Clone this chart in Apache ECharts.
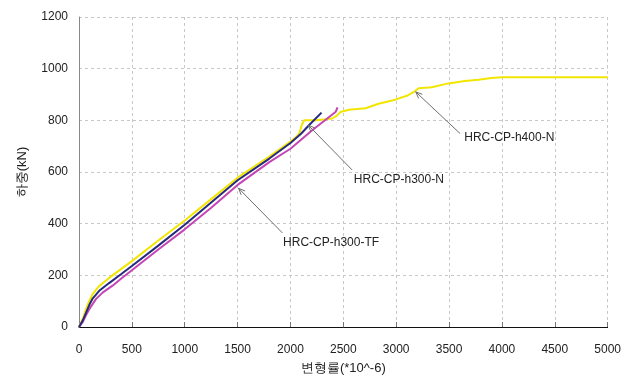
<!DOCTYPE html>
<html><head><meta charset="utf-8">
<script src="https://cdn.jsdelivr.net/npm/echarts@6/dist/echarts.min.js"></script>
<style>html,body{margin:0;padding:0;background:#fff}#c{width:624px;height:380px}</style>
</head><body><div id="c"></div>
<script>
// ---- data (strain ×10^-6, load kN) ----
var h400N = [[0,0],[35,31],[66,69],[97,101],[129,127],[191,159],[285,190],[400,225],[500,255],[750,335],[1000,412],[1250,495],[1500,578],[1800,660],[2000,718],[2060,737],[2085,752],[2110,785],[2130,800],[2240,800],[2330,804],[2395,807],[2442,819],[2473,832],[2552,841],[2709,847],[2834,864],[2991,880],[3100,895],[3164,909],[3211,924],[3336,928],[3493,943],[3650,952],[3776,957],[3900,964],[3996,967],[5000,967]];
var h300N = [[0,0],[35,25],[66,55],[97,85],[129,110],[191,140],[285,170],[400,205],[500,236],[750,315],[1000,396],[1250,482],[1500,568],[1800,652],[2000,712],[2100,748],[2175,781],[2294,830]];
var h300TF = [[0,0],[35,19],[66,45],[97,69],[160,108],[223,133],[317,160],[400,188],[500,220],[750,300],[1000,378],[1250,462],[1500,550],[1800,638],[2000,690],[2200,760],[2426,832],[2435,840],[2445,850]];
var seriesNames = ['HRC-CP-h400-N','HRC-CP-h300-TF','HRC-CP-h300-N'];
var xTicks = [0,500,1000,1500,2000,2500,3000,3500,4000,4500,5000];
var yTicks = [0,200,400,600,800,1000,1200];
// annotations: label, arrow head (on curve), arrow tail, text anchor (left, middle)
var annLabels = ['HRC-CP-h400-N','HRC-CP-h300-N','HRC-CP-h300-TF'];
var annHeads = [[3185,910],[2169,781],[1509,537]];
var annTails = [[3604,749],[2583,608],[1924,364]];
var annTexts = [[3644,731],[2599,569],[1930,327]];

var chart = echarts.init(document.getElementById('c'));
var font = '"Liberation Sans", Arial, sans-serif';
var option = {
  animation:false,
  backgroundColor:'#fff',
  grid:{left:79,right:14,top:17,bottom:52,containLabel:false},
  xAxis:{type:'value',min:xTicks[0],max:xTicks[xTicks.length-1],interval:500,
    name:'변형률(*10^-6)',nameLocation:'middle',nameGap:35,
    nameTextStyle:{fontFamily:font,fontSize:13,color:'#222'},
    axisLine:{lineStyle:{color:'#111',width:1}},
    axisTick:{show:true,inside:true,length:5,lineStyle:{color:'#777'}},
    axisLabel:{fontFamily:font,fontSize:12,color:'#222',margin:17,formatter:function(v){return String(v);}},
    splitLine:{show:true,lineStyle:{color:'#c8c8c8',type:[3,3],width:1}}},
  yAxis:{type:'value',min:yTicks[0],max:yTicks[yTicks.length-1],interval:200,
    name:'하중(kN)',nameLocation:'middle',nameGap:50,nameRotate:90,
    nameTextStyle:{fontFamily:font,fontSize:13,color:'#222'},
    axisLine:{show:true,lineStyle:{color:'#888',width:1}},
    axisTick:{show:false},
    axisLabel:{fontFamily:font,fontSize:12,color:'#222',margin:11,formatter:function(v){return String(v);}},
    splitLine:{show:true,lineStyle:{color:'#c8c8c8',type:[3,3],width:1}}},
  series:[
    {name:seriesNames[0],type:'line',data:h400N,showSymbol:false,lineStyle:{color:'#f2e600',width:2},itemStyle:{color:'#f2e600'}},
    {name:seriesNames[1],type:'line',data:h300TF,showSymbol:false,lineStyle:{color:'#c445b4',width:2},itemStyle:{color:'#c445b4'}},
    {name:seriesNames[2],type:'line',data:h300N,showSymbol:false,lineStyle:{color:'#262a7e',width:2},itemStyle:{color:'#262a7e'}}
  ]
};
chart.setOption(option);

var g = [];
for (var i=0;i<annLabels.length;i++){
  var h = chart.convertToPixel({gridIndex:0}, annHeads[i]);
  var t = chart.convertToPixel({gridIndex:0}, annTails[i]);
  var p = chart.convertToPixel({gridIndex:0}, annTexts[i]);
  var ang = Math.atan2(t[1]-h[1], t[0]-h[0]);
  var L = 7, a = 0.4;
  g.push({type:'line',shape:{x1:t[0],y1:t[1],x2:h[0],y2:h[1]},style:{stroke:'#6e6e6e',lineWidth:1},z:10});
  g.push({type:'polyline',shape:{points:[[h[0]+L*Math.cos(ang+a),h[1]+L*Math.sin(ang+a)],[h[0],h[1]],[h[0]+L*Math.cos(ang-a),h[1]+L*Math.sin(ang-a)]]},style:{stroke:'#6e6e6e',lineWidth:1,fill:null},z:10});
  g.push({type:'text',x:p[0],y:p[1],style:{text:annLabels[i],fontFamily:font,fontSize:12,fill:'#222',textAlign:'left',textVerticalAlign:'middle'},z:10});
}
chart.setOption({graphic:g});
</script></body></html>
